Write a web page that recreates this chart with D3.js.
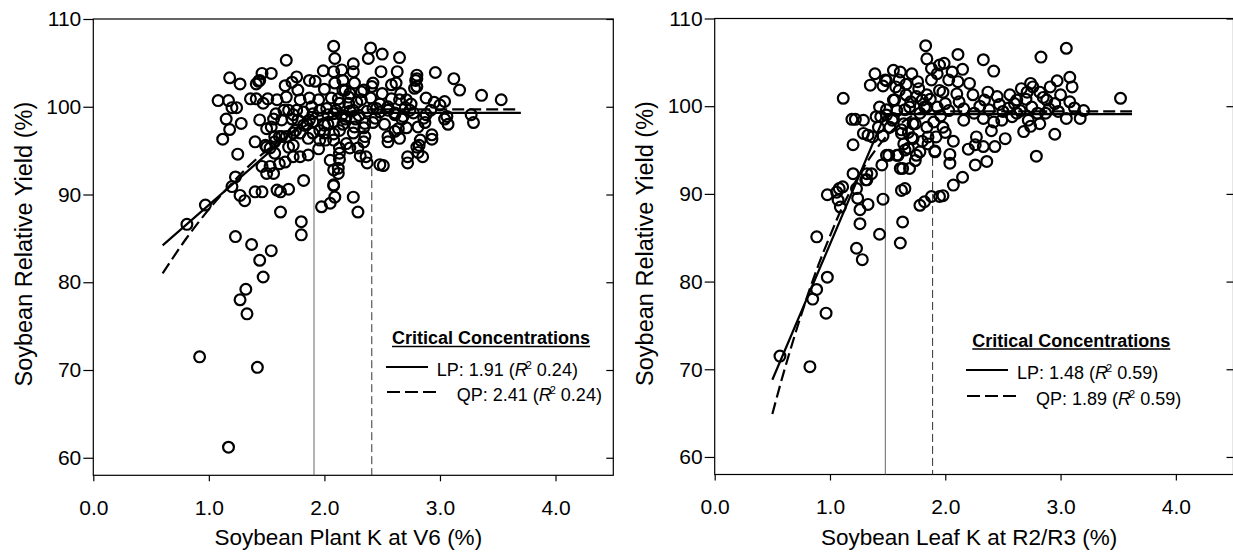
<!DOCTYPE html>
<html>
<head>
<meta charset="utf-8">
<script src="https://cdn.jsdelivr.net/npm/d3@7"></script>
<style>
    body { margin: 0; background: #fff; }
    svg { font-family: "Liberation Sans", Arial, sans-serif; }
</style>
</head>
<body>
<svg width="1233" height="552"></svg>
<script>
// **** Data ****

var xTicks = [0, 1, 2, 3, 4];
var yTicks = [60, 70, 80, 90, 100, 110];

// Soybean plant K at V6 (%) vs relative yield (%)
var plantPoints = [
    [0.81,86.6],[0.97,88.8],[0.92,71.5],[1.17,61.2],[1.42,70.3],[1.27,78.0],[1.32,79.2],[1.33,76.4],[1.47,80.6],
    [1.23,85.2],[1.37,84.3],[1.44,82.5],[1.54,83.6],[1.80,86.9],[1.80,85.4],[1.62,88.0],[2.29,88.0],[2.25,89.7],
    [1.975,88.6],[2.05,89.0],[2.09,89.7],
    [1.08,100.7],[1.17,100.7],[1.20,99.9],[1.24,99.9],[1.15,98.6],[1.18,97.4],[1.12,96.3],[1.28,98.1],[1.25,94.6],
    [1.18,103.3],[1.27,102.6],[1.36,100.9],[1.41,100.9],[1.43,102.9],[1.46,103.8],[1.54,103.8],[1.44,103.0],
    [1.47,100.4],[1.51,100.9],[1.44,98.5],[1.40,96.0],[1.49,95.6],[1.50,97.5],[1.54,97.7],[1.61,96.6],[1.57,96.0],
    [1.53,95.3],[1.57,94.7],
    [1.23,92.0],[1.20,90.9],[1.27,89.9],[1.31,89.3],[1.40,90.3],[1.46,90.3],[1.46,93.2],[1.53,93.2],[1.50,92.4],
    [1.56,92.4],[1.61,93.5],[1.66,93.7],[1.59,90.5],[1.62,90.3],[1.69,90.6],[1.82,91.6],
    [1.67,105.3],[1.66,102.4],[1.72,102.8],[1.76,103.4],[1.67,101.1],[1.77,101.9],[1.69,99.6],[1.76,99.6],
    [1.63,98.5],[1.63,96.6],[1.69,95.4],[1.73,95.6],[1.73,94.3],[1.79,94.3],[1.86,94.5],[1.86,96.4],[1.82,97.9],
    [1.85,98.0],[1.79,100.8],[1.82,99.4],[1.87,101.0],[1.87,103.0],[1.92,102.9],[1.99,104.1],[2.00,102.0],
    [1.95,100.8],[1.89,100.0],[1.90,99.2],[1.90,98.3],[1.96,97.3],[1.96,96.2],[2.01,96.2],[1.95,95.2],[2.05,93.9],
    [2.12,93.0],[2.08,92.8],[2.08,91.1],[1.72,98.6],[1.58,99.2],[1.56,98.6],[1.75,97.3],
    [1.90,97.0],[2.19,98.9],[2.25,99.6],[2.32,100.8],[2.42,99.8],[2.48,99.4],[2.55,100.0],[2.61,99.1],[2.68,98.9],
    [2.74,99.6],[1.96,99.6],[2.03,99.1],[2.21,101.1],[1.59,100.8],[1.65,99.6],[1.73,99.1],[1.77,98.5],[1.73,97.0],
    [1.79,97.0],[1.57,96.6],[1.50,95.4],[1.67,96.6],[1.87,98.5],[2.00,97.0],[2.08,96.2],[2.00,97.9],[1.41,102.6],
    [2.08,106.9],[2.09,105.5],[2.08,104.0],[2.15,104.2],[2.25,104.9],[2.25,104.0],[2.09,102.7],[2.18,101.9],
    [2.06,101.0],[2.13,100.4],[2.21,100.4],[2.08,99.2],[2.08,98.3],[2.13,97.3],[2.08,96.9],[2.26,97.7],[2.35,98.1],
    [2.19,95.8],[2.13,94.7],[2.29,95.3],[2.36,94.3],[2.35,96.6],[2.16,101.9],[2.16,103.0],[2.22,101.5],[2.26,102.7],
    [2.32,101.7],[2.22,99.5],[2.37,99.5],[2.16,98.0],[2.25,97.0],[2.34,97.6],[2.34,96.0],[2.13,95.3],[2.22,95.3],
    [2.31,94.4],[2.37,93.6],[2.13,94.0],[2.12,92.4],[2.08,91.0],[2.02,99.8],[2.10,99.6],[2.15,99.0],[2.18,98.6],
    [2.03,98.0],[2.12,100.9],[2.28,100.5],[2.30,99.0],[2.27,98.6],
    [2.40,106.7],[2.38,105.5],[2.50,106.0],[2.65,105.6],[2.49,104.0],[2.63,104.0],[2.34,101.9],[2.41,102.3],
    [2.40,101.0],[2.44,98.7],[2.48,93.4],[2.51,93.3],[2.55,96.6],[2.58,102.5],[2.62,102.7],[2.65,100.8],[2.64,97.5],
    [2.65,96.4],[2.72,94.3],[2.80,103.2],[2.78,102.1],[2.80,95.4],[2.81,97.7],[2.80,103.6],[2.80,102.3],[2.71,100.8],
    [2.66,101.5],[2.58,100.9],[2.42,102.7],[2.61,99.3],[2.77,99.3],[2.52,98.0],[2.42,98.2],[2.71,97.6],[2.67,98.6],
    [2.61,97.2],[2.55,96.0],[2.82,95.6],[2.81,94.8],[2.85,94.3],[2.72,93.6],[2.45,99.8],[2.48,100.3],[2.55,99.6],
    [2.50,101.5],[2.70,99.9],[2.75,100.3],[2.87,98.2],[2.86,98.7],[2.83,96.2],[2.79,103.0],
    [2.96,103.9],[3.12,103.2],[3.17,101.9],[3.36,101.3],[3.53,100.8],[3.04,100.6],[3.00,100.2],[2.88,101.0],
    [2.88,99.1],[3.04,98.6],[3.27,99.1],[3.29,98.2],[3.07,98.0],[2.93,96.3],[2.93,96.8],[3.06,98.9],[2.92,99.6],
    [2.95,100.5]
];

// Soybean leaf K at R2/R3 (%) vs relative yield (%)
var leafPoints = [
    [0.566,71.5],[0.826,70.3],[0.85,78.0],[0.884,79.1],[0.966,76.4],[0.977,80.5],[0.885,85.1],[1.23,83.8],
    [1.28,82.5],[1.26,86.6],[1.43,85.4],[1.61,84.4],[1.63,86.8],
    [0.977,89.9],[1.058,90.2],[1.11,90.8],[1.07,89.3],[1.09,88.5],[1.20,92.3],[1.20,95.6],[1.19,98.5],[1.115,100.9],
    [1.22,98.5],[1.29,96.9],[1.33,96.7],[1.37,96.5],[1.32,92.3],[1.36,92.3],[1.32,91.6],[1.23,90.6],[1.24,89.5],
    [1.26,88.2],[1.33,88.8],[1.46,89.4],[1.45,93.3],[1.08,90.6],[1.31,91.6],
    [1.35,102.4],[1.39,103.7],[1.46,102.3],[1.48,103.0],[1.43,99.9],[1.40,98.8],[1.42,97.6],[1.46,96.6],[1.49,94.4],
    [1.55,104.1],[1.61,103.9],[1.60,103.0],[1.71,103.7],[1.55,100.7],[1.58,99.5],[1.55,98.6],[1.64,98.0],[1.62,96.9],
    [1.59,94.4],[1.64,95.7],[1.65,95.0],[1.63,92.9],[1.69,92.9],[1.62,90.4],[1.65,90.6],[1.66,101.3],[1.69,99.9],
    [1.72,98.0],[1.72,96.3],[1.74,93.8],[1.77,102.0],[1.80,100.7],[1.83,106.9],[1.84,105.4],[1.88,104.3],[1.88,103.0],
    [1.82,99.9],[1.84,97.6],[1.78,94.8],[1.85,95.7],[1.91,94.8],[1.78,88.7],[1.82,89.1],[1.88,89.7],[1.95,89.7],
    [1.95,104.7],[1.95,101.8],[1.49,102.9],[1.29,98.4],[1.44,98.8],[1.49,99.6],[1.54,98.4],[1.56,100.7],[1.75,101.1],
    [1.84,101.3],[1.84,99.9],[1.65,99.6],[1.74,98.0],[1.62,97.3],[1.71,96.4],[1.85,96.5],[1.68,95.2],[1.51,94.4],
    [1.58,94.4],[1.75,94.4],[1.61,92.9],
    [1.52,97.6],[1.49,99.0],[1.60,101.8],[1.70,100.5],[1.78,99.2],[1.90,98.2],[1.87,100.8],[1.68,97.0],[1.80,96.0],
    [1.92,96.5],[2.00,97.0],[1.76,102.8],[1.66,102.5],[1.57,102.2],
    [3.05,106.6],[2.83,105.6],[2.33,105.3],[2.11,105.9],[2.42,104.0],[1.99,104.9],[2.15,104.2],[2.06,103.9],
    [1.93,103.7],[2.97,102.9],[3.08,103.3],[3.10,102.2],[2.91,102.2],[2.74,102.6],[2.71,101.6],[2.82,101.6],
    [2.88,100.7],[3.08,100.5],[3.20,99.5],[3.52,100.9],[2.62,100.7],[2.56,101.3],[2.45,101.1],[2.37,101.6],
    [2.34,100.7],[2.24,101.3],[2.21,102.6],[2.11,102.8],[2.03,103.0],[1.98,101.6],[2.10,101.4],[2.16,99.7],
    [2.03,99.5],[1.93,99.9],[2.65,99.5],[2.75,99.9],[2.90,99.7],[3.05,98.6],[3.17,98.6],[2.33,98.6],[2.42,98.2],
    [2.49,98.4],[2.16,98.4],[2.68,97.1],[2.74,97.7],[2.82,98.0],[2.95,96.8],[1.98,97.6],[2.07,96.0],[2.27,96.5],
    [2.26,95.6],[2.33,95.4],[2.43,95.4],[2.20,95.1],[1.91,94.9],[2.04,94.5],[2.04,93.5],[2.26,93.3],[2.36,93.7],
    [2.79,94.3],[2.15,91.9],[2.07,91.0],[1.98,89.8],
    [2.25,99.2],[2.30,100.0],[2.55,99.8],[2.60,100.3],[2.70,100.8],[2.80,99.2],[2.95,100.3],[2.58,98.8],
    [2.12,100.5],[2.00,100.3],[1.96,98.9],[2.38,99.6],[2.47,100.2],[2.85,101.0],[3.00,101.3],[2.66,102.0],[2.76,102.2],
    [2.50,99.4],[2.62,99.2],[2.40,97.2],[2.52,96.3],[2.87,99.2],[2.98,99.4],[3.12,99.8],[2.72,98.4]
];

// fitted models: linear-plateau (LP) and quadratic-plateau (QP)
var plantLP = [[0.60,84.2],[1.91,99.3],[3.70,99.3]];
var plantQP = [[0.60,81.0],[0.80,84.9],[1.00,88.3],[1.20,91.3],[1.40,93.9],[1.60,96.0],[1.80,97.6],
               [2.00,98.7],[2.20,99.4],[2.41,99.7],[3.66,99.7]];
var leafLP = [[0.50,68.8],[1.48,99.1],[3.62,99.1]];
var leafQP = [[0.50,64.9],[0.60,69.7],[0.70,74.1],[0.80,78.2],[0.90,81.9],[1.00,85.2],[1.10,88.3],[1.20,90.9],
              [1.30,93.2],[1.40,95.1],[1.50,96.7],[1.60,97.9],[1.70,98.8],[1.80,99.3],[1.89,99.4],[3.62,99.4]];

// critical concentration markers (x, visible top of the drop line)
var plantCritical = [[1.91, 93.9], [2.41, 93.0]];
var leafCritical = [[1.48, 92.8], [1.89, 94.1]];

var plantLegend = ["LP: 1.91 (", " 0.24)", "QP: 2.41 (", " 0.24)"];
var leafLegend = ["LP: 1.48 (", " 0.59)", "QP: 1.89 (", " 0.59)"];

// **** Drawing ****

var svg = d3.select('svg');

drawPanel(svg, {
    left: 93.3, right: 613.3, top: 19, bottom: 475.3,
    points: plantPoints, lp: plantLP, qp: plantQP, critical: plantCritical,
    legend: plantLegend, legendX: 392, legendY: 344, lpX: 436.7, qpX: 456.7, lineX: 386, lineY: [367, 392],
    yTitleX: 24, xTitle: "Soybean Plant K at V6 (%)"
});

drawPanel(svg, {
    left: 714.7, right: 1233.5, top: 18.5, bottom: 474.5,
    points: leafPoints, lp: leafLP, qp: leafQP, critical: leafCritical,
    legend: leafLegend, legendX: 972.3, legendY: 346.5, lpX: 1017, qpX: 1036, lineX: 966, lineY: [370, 396],
    yTitleX: 645, xTitle: "Soybean Leaf K at R2/R3 (%)"
});

function drawPanel(svg, o) {
    var xScale = d3.scaleLinear().domain([0, 4.5]).range([o.left, o.right]);
    var yScale = d3.scaleLinear().domain([58, 110]).range([o.bottom, o.top]);

    var g = svg.append('g');

    // frame
    g.append('rect')
        .attr('x', o.left).attr('y', o.top)
        .attr('width', o.right - o.left).attr('height', o.bottom - o.top)
        .attr('fill', 'none').attr('stroke', '#000').attr('stroke-width', 1.2);

    // axes
    var xAxis = g.append('g')
        .attr('transform', 'translate(0,' + o.bottom + ')')
        .call(d3.axisBottom(xScale).tickValues(xTicks).tickSize(6).tickPadding(18.5)
            .tickFormat(d3.format('.1f')));

    var yAxis = g.append('g')
        .attr('transform', 'translate(' + o.left + ',0)')
        .call(d3.axisLeft(yScale).tickValues(yTicks).tickSize(10).tickPadding(2));

    var yAxisRight = g.append('g')
        .attr('transform', 'translate(' + o.right + ',0)')
        .call(d3.axisLeft(yScale).tickValues(yTicks).tickSize(7).tickFormat(''));

    [xAxis, yAxis, yAxisRight].forEach(function (a) {
        a.select('.domain').remove();
        a.selectAll('line').attr('stroke', '#000').attr('stroke-width', 1.2);
        a.selectAll('text').attr('font-size', '21px').attr('fill', '#000')
            .attr('font-family', '"Liberation Sans", Arial, sans-serif');
    });

    // axis titles
    g.append('text')
        .attr('x', (o.left + o.right) / 2 - 5).attr('y', 545)
        .attr('text-anchor', 'middle').attr('font-size', '22.5px')
        .text(o.xTitle);

    g.append('text')
        .attr('transform', 'translate(' + (o.yTitleX + 8) + ',' + ((o.top + o.bottom) / 2 - 3) + ') rotate(-90)')
        .attr('text-anchor', 'middle').attr('font-size', '23.5px')
        .text("Soybean Relative Yield (%)");

    // critical concentration drop lines
    g.append('line')
        .attr('x1', xScale(o.critical[0][0])).attr('x2', xScale(o.critical[0][0]))
        .attr('y1', yScale(o.critical[0][1])).attr('y2', o.bottom)
        .attr('stroke', '#666').attr('stroke-width', 1);

    g.append('line')
        .attr('x1', xScale(o.critical[1][0])).attr('x2', xScale(o.critical[1][0]))
        .attr('y1', yScale(o.critical[1][1])).attr('y2', o.bottom)
        .attr('stroke', '#333').attr('stroke-width', 1)
        .attr('stroke-dasharray', '8,4');

    // scatter
    g.selectAll('circle.pt')
        .data(o.points)
        .enter().append('circle')
        .attr('class', 'pt')
        .attr('cx', function (d) { return xScale(d[0]); })
        .attr('cy', function (d) { return yScale(d[1]); })
        .attr('r', 5.4)
        .attr('fill', 'none')
        .attr('stroke', '#000')
        .attr('stroke-width', 2.2);

    // fitted lines
    var line = d3.line()
        .x(function (d) { return xScale(d[0]); })
        .y(function (d) { return yScale(d[1]); });

    g.append('path')
        .attr('d', line.curve(d3.curveLinear)(o.lp))
        .attr('fill', 'none').attr('stroke', '#000').attr('stroke-width', 2.2);

    g.append('path')
        .attr('d', line.curve(d3.curveMonotoneX)(o.qp))
        .attr('fill', 'none').attr('stroke', '#000').attr('stroke-width', 2.2)
        .attr('stroke-dasharray', '12,5');

    // legend
    var title = g.append('text')
        .attr('x', o.legendX).attr('y', o.legendY)
        .attr('font-size', '18px').attr('font-weight', 'bold')
        .text("Critical Concentrations");
    var tw = title.node().getComputedTextLength();
    g.append('line')
        .attr('x1', o.legendX).attr('x2', o.legendX + tw)
        .attr('y1', o.legendY + 2.5).attr('y2', o.legendY + 2.5)
        .attr('stroke', '#000').attr('stroke-width', 1.4);

    g.append('line')
        .attr('x1', o.lineX).attr('x2', o.lineX + 42)
        .attr('y1', o.lineY[0]).attr('y2', o.lineY[0])
        .attr('stroke', '#000').attr('stroke-width', 2.2);
    g.append('line')
        .attr('x1', o.lineX + 1).attr('x2', o.lineX + 51)
        .attr('y1', o.lineY[1]).attr('y2', o.lineY[1])
        .attr('stroke', '#000').attr('stroke-width', 2.2)
        .attr('stroke-dasharray', '13,5');

    legendEntry(g, o.lpX, o.lineY[0] + 8.5, o.legend[0], o.legend[1]);
    legendEntry(g, o.qpX, o.lineY[1] + 9, o.legend[2], o.legend[3]);
}

function legendEntry(g, x, y, before, after) {
    var t = g.append('text')
        .attr('x', x).attr('y', y)
        .attr('font-size', '18px');
    t.append('tspan').text(before);
    t.append('tspan').attr('font-style', 'italic').text('R');
    t.append('tspan').attr('font-size', '11px').attr('dx', -2).attr('dy', -7).text('2');
    t.append('tspan').attr('dy', 7).text(after);
}
</script>
</body>
</html>
